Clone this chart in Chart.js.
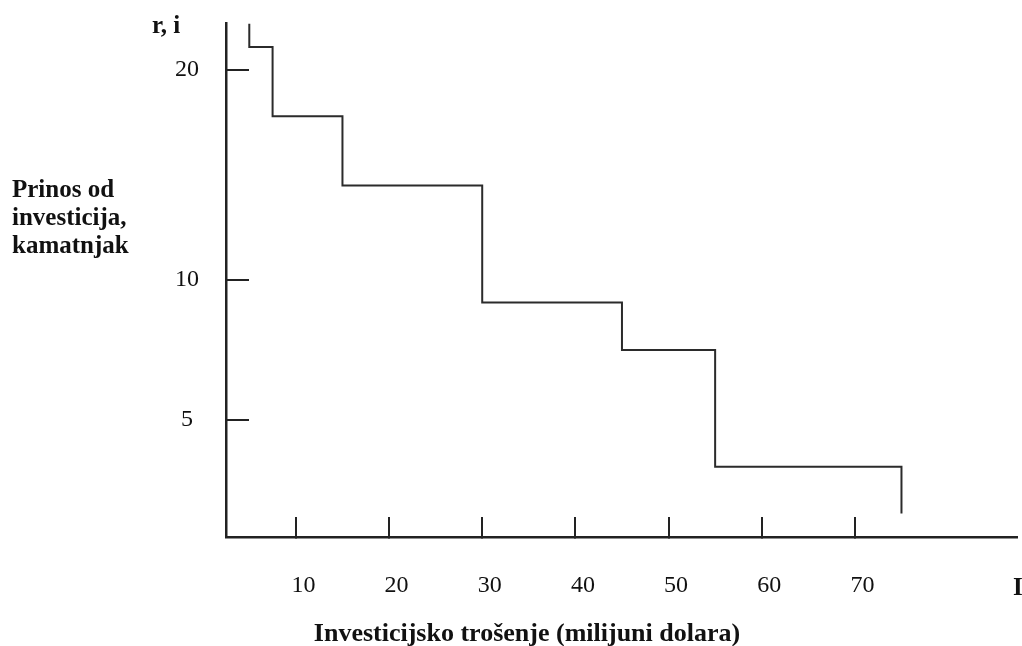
<!DOCTYPE html>
<html>
<head>
<meta charset="utf-8">
<script src="https://cdn.jsdelivr.net/npm/chart.js@4.4.1/dist/chart.umd.min.js"></script>
<style>
  html, body { margin: 0; padding: 0; background: #fff; }
  #okvir { width: 1022px; height: 646px; position: relative; }
</style>
</head>
<body>
<div id="okvir"><canvas id="graf"></canvas></div>
<script>
// rubovi projekata na osi I (milijuni dolara) i prinos svakog projekta
const granice = [5, 7.5, 15, 30, 45, 55, 75];
const prinos = [21.1, 17.8, 14.5, 9.2, 7.5, 3.0];
const vrh = 22.2;  // gdje krivulja počinje iznad prvog projekta
const dno = 1.0;   // gdje završava zadnja okomita crta
const xOznake = [10, 20, 30, 40, 50, 60, 70];
const yOznake = [5, 10, 20];

// os y na slici nije u mjerilu: 5, 10 i 20 su postavljeni rukom
const yCvorovi = [[0, 0], [5, 0.2276], [10, 0.5], [20, 0.9086], [22.24, 1]];

class DijelovnaSkala extends Chart.LinearScale {
  getPixelForValue(value) {
    if (value === null || isNaN(value)) return NaN;
    let k = 1;
    while (k < yCvorovi.length - 1 && value > yCvorovi[k][0]) k++;
    const [v0, d0] = yCvorovi[k - 1];
    const [v1, d1] = yCvorovi[k];
    return this.getPixelForDecimal(d0 + ((value - v0) / (v1 - v0)) * (d1 - d0));
  }
  getValueForPixel(pixel) {
    const d = this.getDecimalForPixel(pixel);
    let k = 1;
    while (k < yCvorovi.length - 1 && d > yCvorovi[k][1]) k++;
    const [v0, d0] = yCvorovi[k - 1];
    const [v1, d1] = yCvorovi[k];
    return v0 + ((d - d0) / (d1 - d0)) * (v1 - v0);
  }
}
DijelovnaSkala.id = "dijelovna";
DijelovnaSkala.defaults = Chart.LinearScale.defaults;
Chart.register(DijelovnaSkala);

const tocke = [{ x: granice[0], y: vrh }];
prinos.forEach((r, i) => {
  tocke.push({ x: granice[i], y: r });
  tocke.push({ x: granice[i + 1], y: r });
});
tocke.push({ x: granice[granice.length - 1], y: dno });

const pismo = "'Liberation Serif', 'Times New Roman', serif";

const natpisi = {
  id: "natpisi",
  afterDraw(chart) {
    const ctx = chart.ctx;
    ctx.save();
    ctx.fillStyle = "#111";
    ctx.font = "bold 25px " + pismo;
    ctx.textBaseline = "alphabetic";
    ctx.textAlign = "left";
    ctx.fillText("r, i", 152, 33);
    ["Prinos od", "investicija,", "kamatnjak"].forEach((t, i) => {
      ctx.fillText(t, 12, 197 + i * 28);
    });
    ctx.fillText("I", 1013, 595);
    ctx.textAlign = "center";
    ctx.font = "bold 26px " + pismo;
    ctx.fillText("Investicijsko trošenje (milijuni dolara)", 527, 641);
    ctx.restore();
  },
};

new Chart(document.getElementById("graf"), {
  type: "line",
  data: {
    datasets: [
      {
        label: "r",
        data: tocke,
        borderColor: "#2b2b2b",
        borderWidth: 2,
        pointRadius: 0,
        fill: false,
        tension: 0,
      },
    ],
  },
  options: {
    responsive: true,
    maintainAspectRatio: false,
    animation: false,
    layout: {
      padding: { left: 175, right: 5, top: 23, bottom: 46 },
    },
    plugins: {
      legend: { display: false },
      tooltip: { enabled: false },
    },
    scales: {
      x: {
        type: "linear",
        min: 2.5,
        max: 87.4,
        afterBuildTicks: (s) => {
          s.ticks = xOznake.map((v) => ({ value: v }));
        },
        afterFit: (s) => {
          s.height = 63;
          s.paddingLeft = 0;
          s.paddingRight = 0;
        },
        grid: {
          display: true,
          drawOnChartArea: false,
          drawTicks: true,
          tickLength: -20,
          color: "#222",
          lineWidth: 2,
        },
        border: { display: true, color: "#222", width: 2.5 },
        ticks: {
          font: { family: pismo, size: 24 },
          color: "#111",
          padding: 54,
          labelOffset: 7.5,
          maxRotation: 0,
          autoSkip: false,
        },
      },
      y: {
        type: "dijelovna",
        min: 0,
        max: 22.24,
        afterBuildTicks: (s) => {
          s.ticks = yOznake.map((v) => ({ value: v }));
        },
        afterFit: (s) => {
          s.width = 51;
          s.paddingTop = 0;
          s.paddingBottom = 0;
        },
        grid: {
          display: true,
          drawOnChartArea: false,
          drawTicks: true,
          tickLength: -23,
          color: "#222",
          lineWidth: 2,
        },
        border: { display: true, color: "#222", width: 2.5 },
        ticks: {
          font: { family: pismo, size: 24 },
          color: "#111",
          padding: 50,
          crossAlign: "center",
          autoSkip: false,
        },
      },
    },
  },
  plugins: [natpisi],
});
</script>
</body>
</html>
